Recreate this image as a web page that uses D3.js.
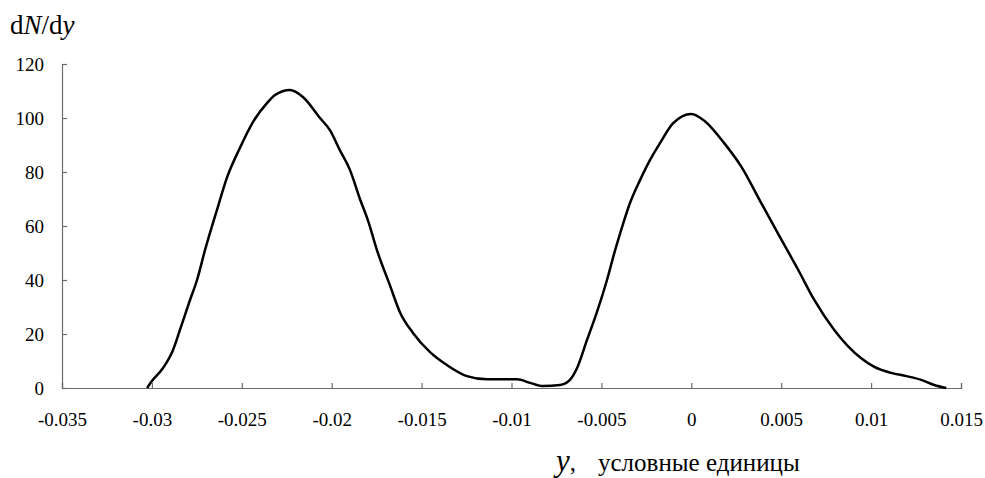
<!DOCTYPE html>
<html>
<head>
<meta charset="utf-8">
<script src="https://cdn.jsdelivr.net/npm/d3@7"></script>
<style>
  body { margin: 0; background: #fff; }
  svg { display: block; }
</style>
</head>
<body>
<svg id="chart"></svg>
<script>
// tick values of the two axes
let xTicks = [-0.035, -0.03, -0.025, -0.02, -0.015, -0.01, -0.005, 0, 0.005, 0.01, 0.015];
let yTicks = [0, 20, 40, 60, 80, 100, 120];

// curve
let yVals = [-0.03027, -0.03001, -0.02938, -0.02883, -0.02844, -0.02788, -0.02749, -0.02705, -0.02638, -0.02582,
             -0.0251, -0.02438, -0.0236, -0.02315, -0.02232, -0.0216, -0.02065, -0.0201, -0.01954, -0.01898,
             -0.01843, -0.01798, -0.01748, -0.01676, -0.0162, -0.01548, -0.01453, -0.01359, -0.01248, -0.01136,
             -0.00969, -0.00897, -0.00825, -0.0073, -0.00675, -0.00636, -0.0058, -0.00524, -0.00469, -0.00424,
             -0.00397, -0.00341, -0.00285, -0.0023, -0.00174, -0.00102, 0, 0.00072, 0.00183, 0.00278,
             0.00389, 0.00484, 0.00595, 0.00684, 0.00795, 0.00945, 0.01018, 0.01112, 0.01196, 0.01279,
             0.01351, 0.01418];
let dNdy = [0, 2.5, 7.4, 14, 21.5, 32.6, 40, 51, 66, 78,
            89, 98.5, 105.5, 108.5, 110.4, 107.8, 100, 95.5, 88, 80.7,
            70, 62, 51, 38, 28, 20.4, 13.3, 8.5, 4.4, 3.2,
            3.2, 1.9, 0.7, 1.1, 3, 7.3, 17.8, 28.3, 40, 51,
            57, 68.5, 77, 84.4, 90.7, 98, 101.5, 99, 90.7, 82,
            68.5, 57, 43.7, 32.6, 21.5, 11, 7.8, 5.6, 4.4, 3,
            1.1, 0];

let W = 985, H = 478;
let margin = {left: 62, right: 24, top: 64, bottom: 90};
let serif = '"Liberation Serif", "Times New Roman", serif';

let svg = d3.select('#chart').attr('width', W).attr('height', H);

let x = d3.scaleLinear().domain([-0.035, 0.015]).range([margin.left, W - margin.right]);
let y = d3.scaleLinear().domain([0, 120]).range([H - margin.bottom, margin.top]);

let fmt = d => (Math.abs(d) < 1e-9 ? '0' : String(+d.toFixed(3)));
let axisColor = '#6b6b6b';

// x axis, ticks pointing up
let gx = svg.append('g')
    .attr('transform', `translate(0,${y(0)})`)
    .call(d3.axisBottom(x).tickValues(xTicks).tickFormat(fmt).tickSizeInner(-5).tickSizeOuter(-5));

// y axis, ticks pointing right
let gy = svg.append('g')
    .attr('transform', `translate(${x(-0.035)},0)`)
    .call(d3.axisLeft(y).tickValues(yTicks).tickSizeInner(-5).tickSizeOuter(-5));

[gx, gy].forEach(g => {
    g.attr('font-family', null).attr('font-size', null);
    g.selectAll('path, line').attr('stroke', axisColor).attr('stroke-width', 1.2);
    g.selectAll('text')
        .style('font-family', serif)
        .style('font-size', '19px')
        .attr('fill', '#000');
});
gx.selectAll('text').attr('y', 38).attr('dy', 0);
gy.selectAll('text').attr('x', -18).attr('dy', '0.34em');

// the curve
let pts = yVals.map((v, i) => [v, dNdy[i]]);
let line = d3.line()
    .x(d => x(d[0]))
    .y(d => y(d[1]))
    .curve(d3.curveMonotoneX);

svg.append('path')
    .datum(pts)
    .attr('d', line)
    .attr('fill', 'none')
    .attr('stroke', '#000')
    .attr('stroke-width', 2.5)
    .attr('stroke-linejoin', 'round');

// axis titles
let title = svg.append('text')
    .attr('x', 10)
    .attr('y', 34)
    .style('font-family', serif)
    .style('font-size', '27px');
title.append('tspan').text('d');
title.append('tspan').style('font-style', 'italic').text('N');
title.append('tspan').text('/d');
title.append('tspan').style('font-style', 'italic').text('y');

let xlab = svg.append('text')
    .attr('y', 471)
    .style('font-family', serif)
    .style('font-size', '25px');
xlab.append('tspan').attr('x', 556).style('font-style', 'italic').style('font-size', '31px').text('y');
xlab.append('tspan').text(',');
xlab.append('tspan').attr('x', 598).text('условные единицы');
</script>
</body>
</html>
